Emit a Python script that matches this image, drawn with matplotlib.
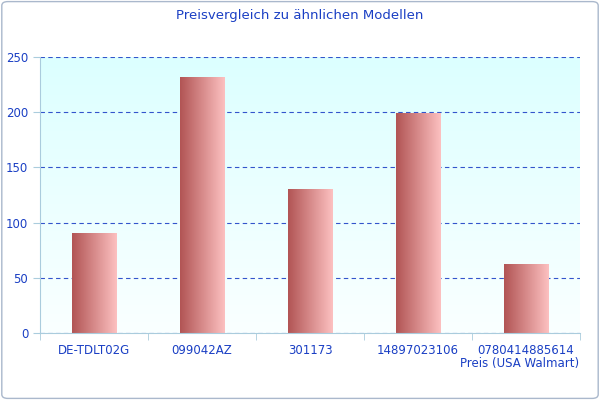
import matplotlib
matplotlib.use("Agg")
import matplotlib.pyplot as plt
import numpy as np
from matplotlib.patches import FancyBboxPatch

categories = ["DE-TDLT02G", "099042AZ", "301173", "14897023106", "0780414885614"]
values = [90, 231, 130, 199, 62]

blue = "#1a3fc4"
fig = plt.figure(figsize=(6, 4), dpi=100)
fig.patches.append(FancyBboxPatch((0.003, 0.004), 0.994, 0.992, boxstyle="round,pad=0,rounding_size=0.01",
                                  transform=fig.transFigure, fill=False, ec="#aab8cc", lw=1))
ax = fig.add_axes([0.0667, 0.1675, 0.9, 0.69])
x = np.arange(len(categories))
ax.set_xlim(-0.5, len(categories) - 0.5)
ax.set_ylim(0, 250)

bg = np.linspace(0, 1, 100).reshape(-1, 1)
c_top = np.array([220, 255, 255]) / 255
c_bot = np.array([250, 255, 255]) / 255
bgimg = c_bot + (c_top - c_bot) * bg[:, :, None] * np.ones((1, 1, 3))
ax.imshow(bgimg, extent=[-0.5, len(categories) - 0.5, 0, 250], origin="lower", aspect="auto", zorder=0)

ax.yaxis.grid(True, linestyle=(0, (4, 3)), color="#3355cc", lw=0.8, zorder=1)
ax.set_axisbelow(True)

w = 0.41
c_l = np.array([178, 85, 85]) / 255
c_r = np.array([252, 192, 192]) / 255
t = np.linspace(0, 1, 64).reshape(1, -1, 1)
barimg = c_l + (c_r - c_l) * t
for xi, v in zip(x, values):
    ax.imshow(barimg, extent=[xi - w / 2, xi + w / 2, 0, v], aspect="auto", zorder=2)
ax.set_xlim(-0.5, len(categories) - 0.5)
ax.set_ylim(0, 250)

ax.set_xticks(x)
ax.set_xticklabels(categories)
ax.set_yticks(range(0, 251, 50))
ax.set_xticks(np.arange(-0.5, len(categories)), minor=True)
ax.tick_params(axis="x", which="major", length=0, colors=blue, labelsize=8.5, pad=8)
ax.tick_params(axis="x", which="minor", length=5, color="#aaccdd")
ax.tick_params(axis="y", length=5, color="#aaccdd", labelcolor=blue, labelsize=8.5)
for s in ["top", "right"]:
    ax.spines[s].set_visible(False)
for s in ["left", "bottom"]:
    ax.spines[s].set_color("#aaccdd")

fig.text(0.5, 0.962, "Preisvergleich zu ähnlichen Modellen", ha="center", va="center", color=blue, fontsize=9.5)
fig.text(0.965, 0.09, "Preis (USA Walmart)", ha="right", va="center", color=blue, fontsize=8.5)

fig.savefig("out.png", dpi=100)
